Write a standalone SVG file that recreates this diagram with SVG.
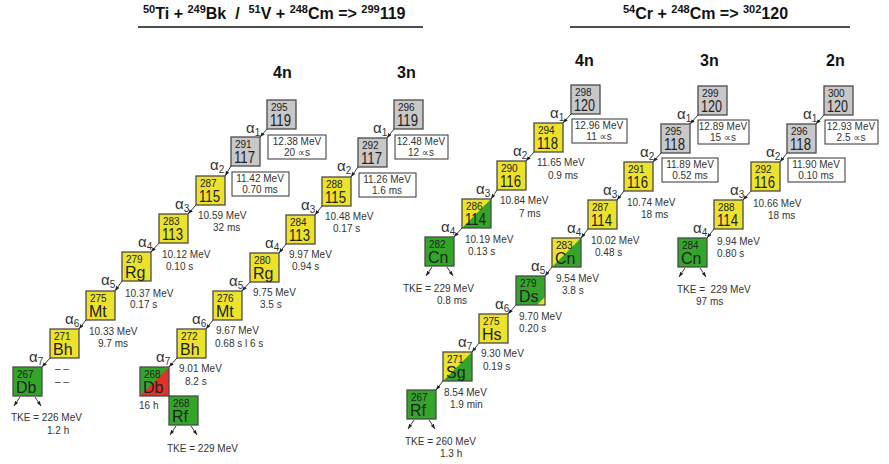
<svg xmlns="http://www.w3.org/2000/svg" width="889" height="464" viewBox="0 0 889 464">
<style>
text{font-family:"Liberation Sans",Arial,"DejaVu Sans",sans-serif;}
.ttl{font-size:16px;font-weight:bold;fill:#111;}
.sup{font-size:11px;}
.hd{font-size:16px;font-weight:bold;fill:#111;}
.o{stroke:#4a4a4a;stroke-width:1.3;}
.n{fill:none;}
.fg{fill:#c8c8c8;}
.fy{fill:#ece22c;}
.fgr{fill:#33a62a;}
.fr{fill:#e0322a;}
.ms{font-size:10px;fill:#222;}
.el{font-size:16px;fill:#222;}
.lb{font-size:10px;fill:#333;}
.c{text-anchor:middle;}
.al{font-size:15px;fill:#333;}
.sb{font-size:10px;}
.fr2{fill:#fff;stroke:#333;stroke-width:1;}
.ar{stroke:#222;stroke-width:0.9;fill:none;marker-end:url(#ah);}
.ul{stroke:#111;stroke-width:1.5;}
</style>
<defs>
<marker id="ah" viewBox="0 0 8 6" refX="8" refY="3" markerWidth="5" markerHeight="4" orient="auto" markerUnits="userSpaceOnUse"><path d="M0,0L8,3L0,6z" fill="#222"/></marker>
</defs>
<rect width="889" height="464" fill="#fff"/>

<g id="titles">
<text class="ttl" x="143" y="19"><tspan class="sup" dy="-6">50</tspan><tspan dy="6">Ti + </tspan><tspan class="sup" dy="-6">249</tspan><tspan dy="6">Bk &#160;/ &#160;</tspan><tspan class="sup" dy="-6">51</tspan><tspan dy="6">V + </tspan><tspan class="sup" dy="-6">248</tspan><tspan dy="6">Cm =&gt; </tspan><tspan class="sup" dy="-6">299</tspan><tspan dy="6">119</tspan></text>
<line class="ul" x1="138" y1="27" x2="423" y2="27"/>
<text class="ttl" x="623" y="19"><tspan class="sup" dy="-6">54</tspan><tspan dy="6">Cr + </tspan><tspan class="sup" dy="-6">248</tspan><tspan dy="6">Cm =&gt; </tspan><tspan class="sup" dy="-6">302</tspan><tspan dy="6">120</tspan></text>
<line class="ul" x1="570" y1="27" x2="850" y2="27"/>
<text class="hd" x="273" y="78">4n</text>
<text class="hd" x="397" y="78">3n</text>
<text class="hd" x="575" y="66">4n</text>
<text class="hd" x="700" y="66">3n</text>
<text class="hd" x="826" y="66">2n</text>
</g>

<!-- Chain A -->
<g id="n295_119"><rect class="o fg" x="267" y="100" width="29" height="29"/><text class="ms" x="271" y="111">295</text><text class="el" x="270" y="126" textLength="21" lengthAdjust="spacingAndGlyphs">119</text></g>
<g id="n291_117"><rect class="o fg" x="231" y="137" width="29" height="29"/><text class="ms" x="235" y="148">291</text><text class="el" x="234" y="163" textLength="21" lengthAdjust="spacingAndGlyphs">117</text></g>
<g id="n287_115"><rect class="o fy" x="196" y="176" width="29" height="29"/><text class="ms" x="200" y="187">287</text><text class="el" x="199" y="202" textLength="21" lengthAdjust="spacingAndGlyphs">115</text></g>
<g id="n283_113"><rect class="o fy" x="159" y="214" width="29" height="29"/><text class="ms" x="163" y="225">283</text><text class="el" x="162" y="240" textLength="21" lengthAdjust="spacingAndGlyphs">113</text></g>
<g id="n279_Rg"><rect class="o fy" x="122" y="252" width="29" height="29"/><text class="ms" x="126" y="263">279</text><text class="el" x="125" y="278">Rg</text></g>
<g id="n275_Mt"><rect class="o fy" x="86" y="291" width="29" height="29"/><text class="ms" x="90" y="302">275</text><text class="el" x="89" y="317">Mt</text></g>
<g id="n271_Bh"><rect class="o fy" x="50" y="329" width="29" height="29"/><text class="ms" x="54" y="340">271</text><text class="el" x="53" y="355">Bh</text></g>
<g id="n267_Db"><rect class="o fgr" x="13" y="367" width="29" height="29"/><text class="ms" x="17" y="378">267</text><text class="el" x="16" y="393">Db</text></g>

<!-- Chain B -->
<g id="n296_119"><rect class="o fg" x="394" y="100" width="29" height="29"/><text class="ms" x="398" y="111">296</text><text class="el" x="397" y="126" textLength="21" lengthAdjust="spacingAndGlyphs">119</text></g>
<g id="n292_117"><rect class="o fg" x="358" y="138" width="29" height="29"/><text class="ms" x="362" y="149">292</text><text class="el" x="361" y="164" textLength="21" lengthAdjust="spacingAndGlyphs">117</text></g>
<g id="n288_115"><rect class="o fy" x="322" y="177" width="29" height="29"/><text class="ms" x="326" y="188">288</text><text class="el" x="325" y="203" textLength="21" lengthAdjust="spacingAndGlyphs">115</text></g>
<g id="n284_113"><rect class="o fy" x="286" y="215" width="29" height="29"/><text class="ms" x="290" y="226">284</text><text class="el" x="289" y="241" textLength="21" lengthAdjust="spacingAndGlyphs">113</text></g>
<g id="n280_Rg"><rect class="o fy" x="250" y="253" width="29" height="29"/><text class="ms" x="254" y="264">280</text><text class="el" x="253" y="279">Rg</text></g>
<g id="n276_Mt"><rect class="o fy" x="213" y="291" width="29" height="29"/><text class="ms" x="217" y="302">276</text><text class="el" x="216" y="317">Mt</text></g>
<g id="n272_Bh"><rect class="o fy" x="177" y="329" width="29" height="29"/><text class="ms" x="181" y="340">272</text><text class="el" x="180" y="355">Bh</text></g>
<g id="n268_Db"><rect class="fgr" x="140" y="367" width="29" height="29"/><polygon class="fr" points="169,367 169,396 140,396"/><rect class="o n" x="140" y="367" width="29" height="29"/><text class="ms" x="144" y="378">268</text><text class="el" x="143" y="393">Db</text></g>
<g id="n268_Rf"><rect class="o fgr" x="169" y="396" width="29" height="29"/><text class="ms" x="173" y="407">268</text><text class="el" x="172" y="422">Rf</text></g>

<!-- Chain C -->
<g id="n298_120"><rect class="o fg" x="571" y="85" width="29" height="29"/><text class="ms" x="575" y="96">298</text><text class="el" x="574" y="111" textLength="21" lengthAdjust="spacingAndGlyphs">120</text></g>
<g id="n294_118"><rect class="o fy" x="534" y="123" width="29" height="29"/><text class="ms" x="538" y="134">294</text><text class="el" x="537" y="149" textLength="21" lengthAdjust="spacingAndGlyphs">118</text></g>
<g id="n290_116"><rect class="o fy" x="497" y="161" width="29" height="29"/><text class="ms" x="501" y="172">290</text><text class="el" x="500" y="187" textLength="21" lengthAdjust="spacingAndGlyphs">116</text></g>
<g id="n286_114"><rect class="fy" x="462" y="199" width="29" height="29"/><polygon class="fgr" points="491,199 491,228 462,228"/><rect class="o n" x="462" y="199" width="29" height="29"/><text class="ms" x="466" y="210">286</text><text class="el" x="465" y="225" textLength="21" lengthAdjust="spacingAndGlyphs">114</text></g>
<g id="n282_Cn"><rect class="o fgr" x="425" y="237" width="29" height="29"/><text class="ms" x="429" y="248">282</text><text class="el" x="428" y="263">Cn</text></g>

<!-- Chain D -->
<g id="n299_120"><rect class="o fg" x="698" y="86" width="29" height="29"/><text class="ms" x="702" y="97">299</text><text class="el" x="701" y="112" textLength="21" lengthAdjust="spacingAndGlyphs">120</text></g>
<g id="n295_118"><rect class="o fg" x="661" y="124" width="29" height="29"/><text class="ms" x="665" y="135">295</text><text class="el" x="664" y="150" textLength="21" lengthAdjust="spacingAndGlyphs">118</text></g>
<g id="n291_116"><rect class="o fy" x="624" y="162" width="29" height="29"/><text class="ms" x="628" y="173">291</text><text class="el" x="627" y="188" textLength="21" lengthAdjust="spacingAndGlyphs">116</text></g>
<g id="n287_114"><rect class="o fy" x="588" y="200" width="29" height="29"/><text class="ms" x="592" y="211">287</text><text class="el" x="591" y="226" textLength="21" lengthAdjust="spacingAndGlyphs">114</text></g>
<g id="n283_Cn"><rect class="fy" x="552" y="238" width="29" height="29"/><polygon class="fgr" points="581,238 581,267 552,267"/><rect class="o n" x="552" y="238" width="29" height="29"/><text class="ms" x="556" y="249">283</text><text class="el" x="555" y="264">Cn</text></g>
<g id="n279_Ds"><rect class="fgr" x="516" y="276" width="29" height="29"/><polygon class="fy" points="545,297 545,305 537,305"/><rect class="o n" x="516" y="276" width="29" height="29"/><text class="ms" x="520" y="287">279</text><text class="el" x="519" y="302">Ds</text></g>
<g id="n275_Hs"><rect class="o fy" x="479" y="314" width="29" height="29"/><text class="ms" x="483" y="325">275</text><text class="el" x="482" y="340">Hs</text></g>
<g id="n271_Sg"><rect class="fy" x="443" y="352" width="29" height="29"/><polygon class="fgr" points="472,352 472,381 443,381"/><rect class="o n" x="443" y="352" width="29" height="29"/><text class="ms" x="447" y="363">271</text><text class="el" x="446" y="378">Sg</text></g>
<g id="n267_Rf"><rect class="o fgr" x="407" y="390" width="29" height="29"/><text class="ms" x="411" y="401">267</text><text class="el" x="410" y="416">Rf</text></g>

<!-- Chain E -->
<g id="n300_120"><rect class="o fg" x="824" y="86" width="29" height="29"/><text class="ms" x="828" y="97">300</text><text class="el" x="827" y="112" textLength="21" lengthAdjust="spacingAndGlyphs">120</text></g>
<g id="n296_118"><rect class="o fg" x="787" y="124" width="29" height="29"/><text class="ms" x="791" y="135">296</text><text class="el" x="790" y="150" textLength="21" lengthAdjust="spacingAndGlyphs">118</text></g>
<g id="n292_116"><rect class="o fy" x="751" y="162" width="29" height="29"/><text class="ms" x="755" y="173">292</text><text class="el" x="754" y="188" textLength="21" lengthAdjust="spacingAndGlyphs">116</text></g>
<g id="n288_114"><rect class="o fy" x="714" y="200" width="29" height="29"/><text class="ms" x="718" y="211">288</text><text class="el" x="717" y="226" textLength="21" lengthAdjust="spacingAndGlyphs">114</text></g>
<g id="n284_Cn"><rect class="o fgr" x="678" y="238" width="29" height="29"/><text class="ms" x="682" y="249">284</text><text class="el" x="681" y="264">Cn</text></g>

<g id="connectors">
<line class="ar" x1="267" y1="129" x2="260" y2="137"/>
<line class="ar" x1="231" y1="166" x2="225" y2="176"/>
<line class="ar" x1="196" y1="205" x2="188" y2="214"/>
<line class="ar" x1="159" y1="243" x2="151" y2="252"/>
<line class="ar" x1="122" y1="281" x2="115" y2="291"/>
<line class="ar" x1="86" y1="320" x2="79" y2="329"/>
<line class="ar" x1="50" y1="358" x2="42" y2="367"/>
<line class="ar" x1="20" y1="397" x2="14" y2="406"/>
<line class="ar" x1="35" y1="397" x2="41" y2="406"/>
<line class="ar" x1="394" y1="129" x2="387" y2="138"/>
<line class="ar" x1="358" y1="167" x2="351" y2="177"/>
<line class="ar" x1="322" y1="206" x2="315" y2="215"/>
<line class="ar" x1="286" y1="244" x2="279" y2="253"/>
<line class="ar" x1="250" y1="282" x2="242" y2="291"/>
<line class="ar" x1="213" y1="320" x2="206" y2="329"/>
<line class="ar" x1="177" y1="358" x2="169" y2="367"/>
<line class="ar" x1="176" y1="426" x2="170" y2="435"/>
<line class="ar" x1="191" y1="426" x2="197" y2="435"/>
<line class="ar" x1="571" y1="114" x2="563" y2="123"/>
<line class="ar" x1="534" y1="152" x2="526" y2="161"/>
<line class="ar" x1="497" y1="190" x2="491" y2="199"/>
<line class="ar" x1="462" y1="228" x2="454" y2="237"/>
<line class="ar" x1="432" y1="267" x2="426" y2="276"/>
<line class="ar" x1="447" y1="267" x2="453" y2="276"/>
<line class="ar" x1="698" y1="115" x2="690" y2="124"/>
<line class="ar" x1="661" y1="153" x2="653" y2="162"/>
<line class="ar" x1="624" y1="191" x2="617" y2="200"/>
<line class="ar" x1="588" y1="229" x2="581" y2="238"/>
<line class="ar" x1="552" y1="267" x2="545" y2="276"/>
<line class="ar" x1="516" y1="305" x2="508" y2="314"/>
<line class="ar" x1="479" y1="343" x2="472" y2="352"/>
<line class="ar" x1="443" y1="381" x2="436" y2="390"/>
<line class="ar" x1="414" y1="420" x2="408" y2="429"/>
<line class="ar" x1="429" y1="420" x2="435" y2="429"/>
<line class="ar" x1="824" y1="115" x2="816" y2="124"/>
<line class="ar" x1="787" y1="153" x2="780" y2="162"/>
<line class="ar" x1="751" y1="191" x2="743" y2="200"/>
<line class="ar" x1="714" y1="229" x2="707" y2="238"/>
<line class="ar" x1="685" y1="268" x2="679" y2="277"/>
<line class="ar" x1="700" y1="268" x2="706" y2="277"/>
</g>

<g id="alpha-labels">
<text class="al" x="246" y="133">α<tspan class="sb" dy="3">1</tspan></text>
<text class="al" x="210" y="170">α<tspan class="sb" dy="3">2</tspan></text>
<text class="al" x="175" y="209">α<tspan class="sb" dy="3">3</tspan></text>
<text class="al" x="138" y="247">α<tspan class="sb" dy="3">4</tspan></text>
<text class="al" x="101" y="285">α<tspan class="sb" dy="3">5</tspan></text>
<text class="al" x="65" y="324">α<tspan class="sb" dy="3">6</tspan></text>
<text class="al" x="29" y="362">α<tspan class="sb" dy="3">7</tspan></text>
<text class="al" x="373" y="133">α<tspan class="sb" dy="3">1</tspan></text>
<text class="al" x="337" y="171">α<tspan class="sb" dy="3">2</tspan></text>
<text class="al" x="301" y="210">α<tspan class="sb" dy="3">3</tspan></text>
<text class="al" x="265" y="248">α<tspan class="sb" dy="3">4</tspan></text>
<text class="al" x="229" y="286">α<tspan class="sb" dy="3">5</tspan></text>
<text class="al" x="192" y="324">α<tspan class="sb" dy="3">6</tspan></text>
<text class="al" x="156" y="362">α<tspan class="sb" dy="3">7</tspan></text>
<text class="al" x="550" y="118">α<tspan class="sb" dy="3">1</tspan></text>
<text class="al" x="513" y="156">α<tspan class="sb" dy="3">2</tspan></text>
<text class="al" x="476" y="194">α<tspan class="sb" dy="3">3</tspan></text>
<text class="al" x="441" y="232">α<tspan class="sb" dy="3">4</tspan></text>
<text class="al" x="677" y="119">α<tspan class="sb" dy="3">1</tspan></text>
<text class="al" x="640" y="157">α<tspan class="sb" dy="3">2</tspan></text>
<text class="al" x="603" y="195">α<tspan class="sb" dy="3">3</tspan></text>
<text class="al" x="567" y="233">α<tspan class="sb" dy="3">4</tspan></text>
<text class="al" x="531" y="271">α<tspan class="sb" dy="3">5</tspan></text>
<text class="al" x="495" y="309">α<tspan class="sb" dy="3">6</tspan></text>
<text class="al" x="458" y="347">α<tspan class="sb" dy="3">7</tspan></text>
<text class="al" x="803" y="119">α<tspan class="sb" dy="3">1</tspan></text>
<text class="al" x="766" y="157">α<tspan class="sb" dy="3">2</tspan></text>
<text class="al" x="730" y="195">α<tspan class="sb" dy="3">3</tspan></text>
<text class="al" x="693" y="233">α<tspan class="sb" dy="3">4</tspan></text>
</g>

<g id="decay-data">
<rect class="fr2" x="268" y="135" width="58" height="24"/><text class="lb c" x="297" y="145">12.38 MeV</text><text class="lb c" x="297" y="156">20 ∝s</text>
<rect class="fr2" x="232" y="172" width="57" height="24"/><text class="lb c" x="260" y="182">11.42 MeV</text><text class="lb c" x="260" y="193">0.70 ms</text>
<text class="lb" x="198" y="219">10.59 MeV</text><text class="lb" x="213" y="231">32 ms</text>
<text class="lb" x="162" y="258">10.12 MeV</text><text class="lb" x="166" y="270">0.10 s</text>
<text class="lb" x="125" y="297">10.37 MeV</text><text class="lb" x="130" y="308">0.17 s</text>
<text class="lb" x="89" y="335">10.33 MeV</text><text class="lb" x="98" y="347">9.7 ms</text>
<text class="lb" x="55" y="372">– –</text><text class="lb" x="55" y="385">– –</text>
<text class="lb" x="11" y="421">TKE = 226 MeV</text><text class="lb" x="47" y="434">1.2 h</text>

<rect class="fr2" x="395" y="135" width="53" height="24"/><text class="lb c" x="421" y="145">12.48 MeV</text><text class="lb c" x="421" y="156">12 ∝s</text>
<rect class="fr2" x="359" y="173" width="57" height="24"/><text class="lb c" x="387" y="183">11.26 MeV</text><text class="lb c" x="387" y="194">1.6 ms</text>
<text class="lb" x="325" y="220">10.48 MeV</text><text class="lb" x="333" y="232">0.17 s</text>
<text class="lb" x="289" y="258">9.97 MeV</text><text class="lb" x="292" y="270">0.94 s</text>
<text class="lb" x="253" y="296">9.75 MeV</text><text class="lb" x="260" y="308">3.5 s</text>
<text class="lb" x="216" y="334">9.67 MeV</text><text class="lb" x="215" y="347">0.68 s l 6 s</text>
<text class="lb" x="179" y="372">9.01 MeV</text><text class="lb" x="185" y="385">8.2 s</text>
<text class="lb" x="139" y="409">16 h</text>
<text class="lb" x="167" y="452">TKE = 229 MeV</text>

<rect class="fr2" x="572" y="119" width="55" height="24"/><text class="lb c" x="599" y="129">12.96 MeV</text><text class="lb c" x="599" y="140">11 ∝s</text>
<text class="lb" x="537" y="166">11.65 MeV</text><text class="lb" x="548" y="179">0.9 ms</text>
<text class="lb" x="500" y="204">10.84 MeV</text><text class="lb" x="519" y="217">7 ms</text>
<text class="lb" x="465" y="243">10.19 MeV</text><text class="lb" x="468" y="255">0.13 s</text>
<text class="lb" x="403" y="292">TKE = 229 MeV</text><text class="lb" x="437" y="304">0.8 ms</text>

<rect class="fr2" x="698" y="120" width="51" height="24"/><text class="lb c" x="723" y="130">12.89 MeV</text><text class="lb c" x="723" y="141">15 ∝s</text>
<rect class="fr2" x="662" y="158" width="56" height="24"/><text class="lb c" x="690" y="168">11.89 MeV</text><text class="lb c" x="690" y="179">0.52 ms</text>
<text class="lb" x="627" y="206">10.74 MeV</text><text class="lb" x="641" y="218">18 ms</text>
<text class="lb" x="591" y="244">10.02 MeV</text><text class="lb" x="595" y="256">0.48 s</text>
<text class="lb" x="556" y="282">9.54 MeV</text><text class="lb" x="562" y="294">3.8 s</text>
<text class="lb" x="519" y="320">9.70 MeV</text><text class="lb" x="519" y="332">0.20 s</text>
<text class="lb" x="481" y="357">9.30 MeV</text><text class="lb" x="483" y="370">0.19 s</text>
<text class="lb" x="444" y="396">8.54 MeV</text><text class="lb" x="450" y="408">1.9 min</text>
<text class="lb" x="405" y="445">TKE = 260 MeV</text><text class="lb" x="440" y="457">1.3 h</text>

<rect class="fr2" x="825" y="120" width="53" height="24"/><text class="lb c" x="851" y="130">12.93 MeV</text><text class="lb c" x="851" y="141">2.5 ∝s</text>
<rect class="fr2" x="788" y="158" width="57" height="24"/><text class="lb c" x="816" y="168">11.90 MeV</text><text class="lb c" x="816" y="179">0.10 ms</text>
<text class="lb" x="753" y="207">10.66 MeV</text><text class="lb" x="768" y="219">18 ms</text>
<text class="lb" x="717" y="245">9.94 MeV</text><text class="lb" x="717" y="257">0.80 s</text>
<text class="lb" x="677" y="293">TKE = &#160;229 MeV</text><text class="lb" x="696" y="305">97 ms</text>
</g>
</svg>
